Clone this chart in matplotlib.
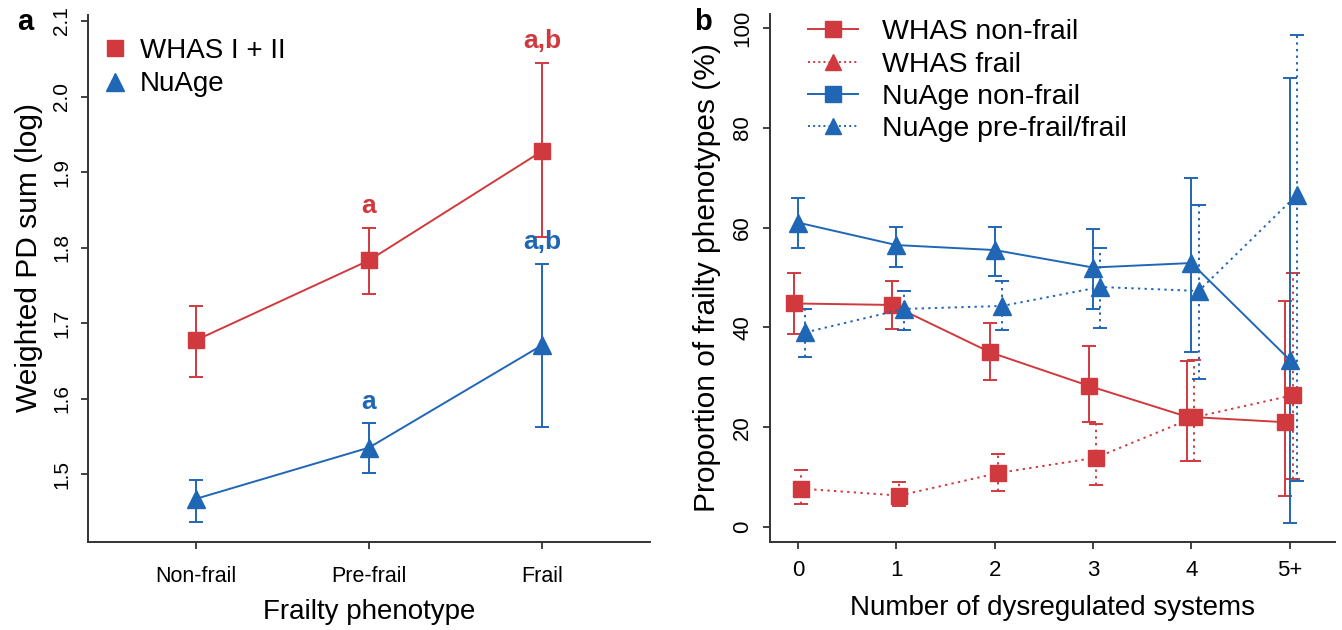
import matplotlib
matplotlib.use("Agg")
from matplotlib import pyplot as plt
from matplotlib.lines import Line2D

plt.rcParams['font.family'] = ['Liberation Sans', 'DejaVu Sans']

red = '#D0393E'
blue = '#1F66B5'

# panel a data
phenotypes = ["Non-frail", "Pre-frail", "Frail"]
whas = [1.677, 1.783, 1.928]
whas_lo = [1.629, 1.738, 1.814]
whas_hi = [1.723, 1.826, 2.044]
whas_letters = ["", "a", "a,b"]
nuage = [1.467, 1.535, 1.671]
nuage_lo = [1.437, 1.502, 1.562]
nuage_hi = [1.492, 1.567, 1.778]
nuage_letters = ["", "a", "a,b"]

# panel b data
systems = ["0", "1", "2", "3", "4", "5+"]
whas_nf = [44.8, 44.5, 35.0, 28.3, 22.1, 21.0]
whas_nf_lo = [38.7, 39.7, 29.5, 21.0, 13.3, 6.2]
whas_nf_hi = [51.0, 49.3, 40.8, 36.3, 33.3, 45.3]
whas_f = [7.7, 6.3, 10.8, 13.9, 22.0, 26.4]
whas_f_lo = [4.7, 4.2, 7.3, 8.5, 13.3, 9.6]
whas_f_hi = [11.5, 9.0, 14.7, 20.7, 33.5, 51.0]
nuage_nf = [61.0, 56.5, 55.5, 52.0, 52.9, 33.5]
nuage_nf_lo = [55.9, 52.2, 50.3, 43.7, 35.0, 0.9]
nuage_nf_hi = [66.0, 60.1, 60.1, 59.8, 70.0, 90.0]
nuage_f = [39.0, 43.7, 44.3, 48.1, 47.3, 66.6]
nuage_f_lo = [34.0, 39.5, 39.5, 39.8, 29.7, 9.3]
nuage_f_hi = [43.7, 47.3, 49.2, 56.0, 64.5, 98.5]


def errs(y, lo, hi):
    return [[a - b for a, b in zip(y, lo)], [b - a for a, b in zip(y, hi)]]


def style_axes(ax):
    for s in ['top', 'right']:
        ax.spines[s].set_visible(False)
    for s in ['left', 'bottom']:
        ax.spines[s].set_linewidth(1.4)
        ax.spines[s].set_color('#333333')
    ax.tick_params(length=5, width=1.3, color='#333333', labelsize=15)
    for lab in ax.get_yticklabels():
        lab.set_rotation(90)
        lab.set_va('center')


fig = plt.figure(figsize=(13.42, 6.3), dpi=100)

# ---------- panel a ----------
ax = fig.add_axes([88 / 1342, 88 / 630, 562 / 1342, 527 / 630])
xa = list(range(1, len(phenotypes) + 1))
ax.errorbar(xa, whas, yerr=errs(whas, whas_lo, whas_hi), color=red, marker='s',
            markersize=11, lw=1.4, capsize=5, capthick=1.4, elinewidth=1.4)
ax.errorbar(xa, nuage, yerr=errs(nuage, nuage_lo, nuage_hi), color=blue, marker='^',
            markersize=13, lw=1.4, capsize=5, capthick=1.4, elinewidth=1.4)
for i in range(len(xa)):
    if whas_letters[i]:
        ax.text(xa[i], whas_hi[i] + 0.029, whas_letters[i], color=red, fontsize=19,
                fontweight='bold', ha='center', va='center')
    if nuage_letters[i]:
        ax.text(xa[i], nuage_hi[i] + 0.029, nuage_letters[i], color=blue, fontsize=19,
                fontweight='bold', ha='center', va='center')
ax.set_xlim(0.38, 3.62)
ax.set_ylim(1.41, 2.108)
ax.set_xticks(xa)
ax.set_xticklabels(phenotypes)
ax.set_yticks([1.5, 1.6, 1.7, 1.8, 1.9, 2.0, 2.1])
style_axes(ax)
ax.tick_params(axis='x', pad=12, labelsize=15.5)
ax.tick_params(axis='y', pad=7)
ax.set_xlabel("Frailty phenotype", fontsize=20, labelpad=9)
ax.set_ylabel("Weighted PD sum (log)", fontsize=21.5)
ax.yaxis.set_label_coords(-0.08, 0.54)
h = [Line2D([], [], color=red, marker='s', ls='none', markersize=11),
     Line2D([], [], color=blue, marker='^', ls='none', markersize=13)]
ax.legend(h, ["WHAS I + II", "NuAge"], loc='upper left', bbox_to_anchor=(0.023, 0.957),
          frameon=False, fontsize=20, handlelength=1.0, handletextpad=0.4,
          borderpad=0, borderaxespad=0, labelspacing=0.28)

# ---------- panel b ----------
bx = fig.add_axes([770 / 1342, 88 / 630, 565 / 1342, 528 / 630])
xb = list(range(len(systems)))
series = [
    (whas_nf, whas_nf_lo, whas_nf_hi, red, 's', '-', -0.045, 11),
    (whas_f, whas_f_lo, whas_f_hi, red, 's', ':', 0.03, 11),
    (nuage_nf, nuage_nf_lo, nuage_nf_hi, blue, '^', '-', 0.0, 13),
    (nuage_f, nuage_f_lo, nuage_f_hi, blue, '^', ':', 0.075, 13),
]
for y, lo, hi, c, m, ls, off, ms in series:
    xs = [x + off for x in xb]
    line, caps, bars = bx.errorbar(xs, y, yerr=errs(y, lo, hi), color=c, marker=m,
                                   markersize=ms, lw=1.4, ls=ls, capsize=5,
                                   capthick=1.4, elinewidth=1.4)
    if ls == ':':
        line.set_dashes([1.2, 2.2])
        bars[0].set_linestyle((0, (1.2, 2.2)))
bx.set_xlim(-0.285, 5.46)
bx.set_ylim(-3, 102.8)
bx.set_xticks(xb)
bx.set_xticklabels(systems)
bx.set_yticks([0, 20, 40, 60, 80, 100])
style_axes(bx)
bx.tick_params(axis='x', pad=8, labelsize=16)
bx.tick_params(axis='y', pad=7, labelsize=16)
bx.set_xlabel("Number of dysregulated systems", fontsize=20, labelpad=10)
bx.set_ylabel("Proportion of frailty phenotypes (%)", fontsize=21.5, labelpad=8)
hb = [Line2D([], [], color=red, marker='s', ls='-', markersize=11, lw=1.4),
      Line2D([], [], color=red, marker='^', ls=':', markersize=12, lw=1.4),
      Line2D([], [], color=blue, marker='s', ls='-', markersize=11, lw=1.4),
      Line2D([], [], color=blue, marker='^', ls=':', markersize=12, lw=1.4)]
bx.legend(hb, ["WHAS non-frail", "WHAS frail", "NuAge non-frail", "NuAge pre-frail/frail"],
          loc='upper left', bbox_to_anchor=(0.067, 0.99), frameon=False, fontsize=20.5,
          handlelength=1.75, handletextpad=0.85, borderpad=0, borderaxespad=0,
          labelspacing=0.22, numpoints=1)

fig.text(25 / 1342, 1 - 22 / 630, "a", fontsize=21, fontweight='bold', ha='center', va='center')
fig.text(703 / 1342, 1 - 22 / 630, "b", fontsize=21, fontweight='bold', ha='center', va='center')

fig.savefig("out.png", dpi=100)
